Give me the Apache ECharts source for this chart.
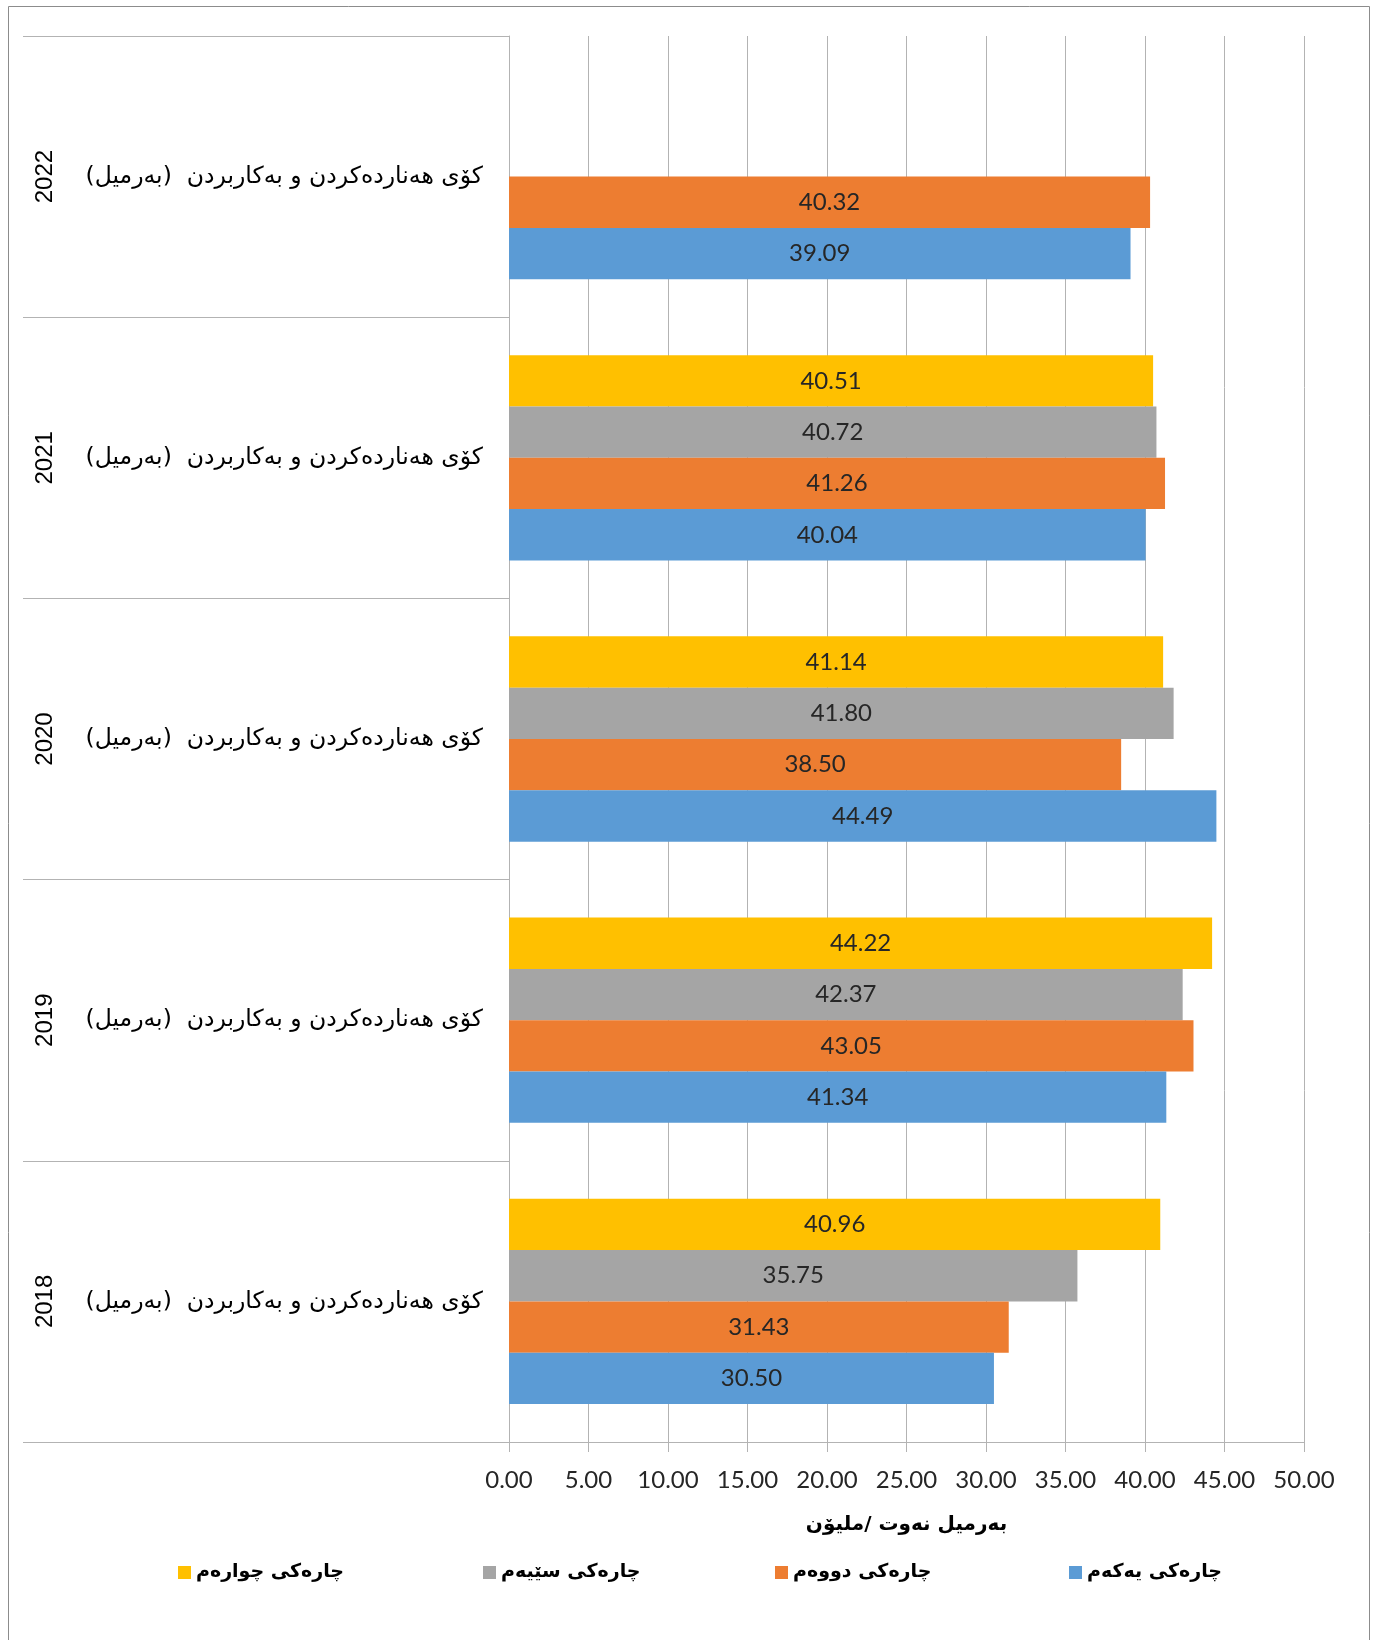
<!DOCTYPE html>
<html>
<head>
<meta charset="utf-8">
<script src="https://cdn.jsdelivr.net/npm/echarts@6/dist/echarts.min.js"></script>
<style>
    html, body { margin: 0; padding: 0; background: #fff; }
    #chart { width: 1373px; height: 1640px; }
</style>
</head>
<body>
<div id="chart"></div>
<script>
// 数据
const years = ['2018', '2019', '2020', '2021', '2022'];
const catLabel = '\u200Fکۆی هەناردەکردن و بەکاربردن  (بەرمیل)\u200F';
const seriesNames = ['چارەکی یەکەم', 'چارەکی دووەم', 'چارەکی سێیەم', 'چارەکی چوارەم'];
const seriesColors = ['#5B9BD5', '#ED7D31', '#A5A5A5', '#FFC000'];
const q1 = [30.50, 41.34, 44.49, 40.04, 39.09];
const q2 = [31.43, 43.05, 38.50, 41.26, 40.32];
const q3 = [35.75, 42.37, 41.80, 40.72, null];
const q4 = [40.96, 44.22, 41.14, 40.51, null];
const seriesValues = [q1, q2, q3, q4];
const axisName = 'بەرمیل نەوت /ملیۆن';
// 图例位置（从左到右：第四季度 → 第一季度）
const legendLeft = [178, 483, 775, 1069];

const gridColor = '#b3b3b3';
const numFont = 'Lato, "Liberation Sans", sans-serif';
const arFont = '"DejaVu Sans", "Noto Sans", sans-serif';

var chart = echarts.init(document.getElementById('chart'));

var legends = [3, 2, 1, 0].map(function (si, i) {
    return {
        left: legendLeft[i],
        top: 1563,
        padding: 0,
        icon: 'rect',
        itemWidth: 13,
        itemHeight: 13,
        itemGap: 6,
        selectedMode: false,
        data: [seriesNames[si]],
        textStyle: { fontFamily: arFont, fontWeight: 'bold', fontSize: 19, color: '#000' }
    };
});

// 横向柱状图里先画的系列在上面，所以倒序放
var order = [3, 2, 1, 0];

var option = {
    backgroundColor: '#fff',
    animation: false,
    graphic: [{
        type: 'rect',
        shape: { x: 8.5, y: 6.5, width: 1361, height: 1700 },
        style: { fill: 'none', stroke: '#8c8c8c', lineWidth: 1 },
        silent: true
    }],
    legend: legends,
    grid: { left: 509, right: 69, top: 36, bottom: 198 },
    xAxis: {
        type: 'value',
        min: 0,
        max: 50,
        interval: 5,
        name: axisName,
        nameLocation: 'middle',
        nameGap: 73,
        nameTextStyle: { fontFamily: arFont, fontWeight: 'bold', fontSize: 20, color: '#000' },
        axisLine: { show: true, lineStyle: { color: gridColor, width: 1 } },
        axisTick: { show: true, length: 10, lineStyle: { color: gridColor } },
        splitLine: { show: true, lineStyle: { color: gridColor, width: 1 } },
        axisLabel: {
            margin: 26,
            fontFamily: numFont,
            fontSize: 24,
            color: '#262626',
            formatter: function (v) { return v.toFixed(2); }
        }
    },
    yAxis: [
        {
            type: 'category',
            data: years,
            axisLine: { show: true, lineStyle: { color: gridColor } },
            axisTick: { show: true, length: 486, interval: 0, lineStyle: { color: gridColor } },
            axisLabel: {
                margin: 26,
                fontFamily: arFont,
                fontSize: 23.5,
                color: '#000',
                formatter: function () { return catLabel; }
            }
        },
        {
            type: 'category',
            data: years,
            position: 'left',
            offset: 452,
            axisLine: { show: false },
            axisTick: { show: false },
            axisLabel: {
                rotate: 90,
                margin: 0,
                fontFamily: '"Liberation Sans", Arial, sans-serif',
                fontSize: 24,
                color: '#000'
            }
        }
    ],
    series: order.map(function (i) {
        return {
            name: seriesNames[i],
            type: 'bar',
            yAxisIndex: 0,
            data: seriesValues[i],
            barGap: 0,
            barCategoryGap: '27%',
            itemStyle: { color: seriesColors[i] },
            label: {
                show: true,
                position: 'inside',
                fontFamily: numFont,
                fontSize: 24,
                color: '#262626',
                formatter: function (p) { return p.value.toFixed(2); }
            }
        };
    })
};

chart.setOption(option);
</script>
</body>
</html>
